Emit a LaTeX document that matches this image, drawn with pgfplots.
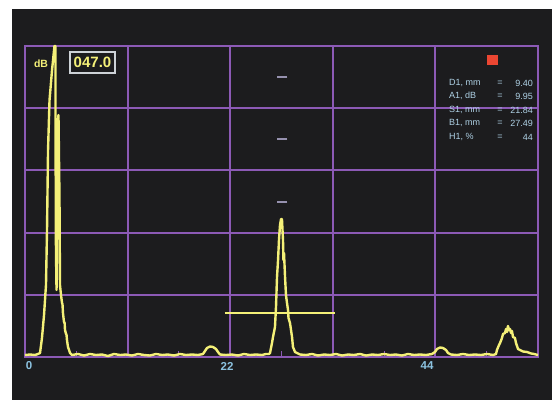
\documentclass[border=0pt]{standalone}
\usepackage{fontspec}
\setmainfont{Liberation Sans}
\usepackage{pgfplots}
\pgfplotsset{compat=1.18}

\definecolor{scr}{RGB}{28,28,30}
\definecolor{gridc}{RGB}{140,90,182}
\definecolor{trace}{RGB}{244,240,120}
\definecolor{tickc}{RGB}{140,195,225}
\definecolor{panelc}{RGB}{175,210,230}
\definecolor{boxc}{RGB}{205,210,215}
\definecolor{redc}{RGB}{235,70,50}
\definecolor{dashc}{RGB}{150,145,175}

\begin{document}
\begin{tikzpicture}
\path[use as bounding box] (-25pt,-43pt) rectangle (527pt,357pt);
\fill[white] (-25pt,-43pt) rectangle (527pt,357pt);
\fill[scr] (-13pt,-43pt) rectangle (527pt,348pt);
\begin{axis}[
  at={(0,0)}, anchor=south west,
  scale only axis, width=513pt, height=311pt,
  xmin=0, xmax=55, ymin=0, ymax=100,
  clip=false,
  axis line style={gridc, line width=2pt},
  xtick={0,11,22,33,44,55}, xticklabels={},
  ytick={0,20,40,60,80,100}, yticklabels={},
  xmajorgrids=true, ymajorgrids=true,
  major grid style={gridc, line width=2pt, opacity=1},
  major tick length=0pt,
  minor xtick={5.5,16.5,27.5,38.5,49.5},
  minor tick length=6pt, tick align=inside,
  minor tick style={gridc, line width=1pt},
  xtick pos=left, ytick pos=left,
  extra x ticks={0.43,21.66,43.10}, extra x tick labels={0,22,44},
  extra x tick style={grid=none, major tick length=0pt},
  xticklabel style={font=\bfseries\fontsize{11.5}{11.5}\selectfont, text=tickc,
    anchor=center, yshift=-9pt},
]
% centre graticule dashes
\addplot[only marks, mark=-, mark size=5pt, dashc, line width=2pt]
  coordinates {(27.6,90)(27.6,70)(27.6,50)};
% gate
\addplot[trace, line width=2.2pt] coordinates {(21.44,14.15)(33.24,14.15)};
% A-scan trace
\addplot[trace, line width=2.4pt, line join=round] coordinates {
(0,0.64)(0.54,0.80)(1.07,0.64)(1.39,0.97)(1.61,1.29)
(1.82,6.11)(2.04,13.51)(2.25,23.15)(2.36,40.84)(2.47,66.56)(2.63,82.64)(2.90,92.28)
(3.16,100)(3.27,100)(3.27,76.21)(3.32,34.41)(3.38,21.54)(3.48,50.48)(3.54,76.21)
(3.59,77.81)(3.70,50.48)(3.75,23.15)(3.86,19.94)(3.97,17.36)(4.02,17.0)(4.07,14.15)
(4.18,11.25)(4.25,11.0)(4.29,8.68)(4.40,7.40)(4.45,7.2)(4.50,5.47)(4.61,3.22)
(4.83,1.29)(5.04,0.64)
(5.68,0.97)(6.33,0.48)(6.97,0.97)(7.61,0.64)(8.26,0.80)(8.90,0.32)(9.54,0.97)
(10.19,0.64)(10.83,0.80)(11.47,0.48)(12.12,0.97)(12.76,0.64)(13.40,0.48)(14.05,0.97)
(14.69,0.64)(15.33,0.80)(15.98,0.48)(16.62,0.97)(17.26,0.64)(17.90,0.80)(18.55,0.64)
(19.08,0.97)
(19.30,1.93)(19.51,2.89)(19.83,3.38)(20.16,3.22)(20.48,2.57)(20.69,1.61)(20.91,0.80)
(21.55,0.64)(22.19,0.80)(22.84,0.48)(23.48,0.97)(24.12,0.64)(24.77,0.80)(25.41,0.64)
(25.84,0.97)(26.16,0.97)
(26.27,1.29)(26.48,4.50)(26.59,6.43)(26.80,9.65)(26.91,16.08)(27.02,25.72)(27.13,31.19)
(27.23,37.62)(27.34,42.44)(27.45,44.37)(27.55,44.37)(27.66,37.62)(27.71,31.19)
(27.77,33.44)(27.88,25.72)(27.98,19.94)(28.09,17.36)(28.20,15.11)(28.25,12.54)
(28.41,10.93)(28.52,8.68)(28.63,6.43)(28.73,3.22)(28.95,1.61)(29.16,1.29)(29.48,0.80)
(30.13,0.64)(30.77,0.97)(31.41,0.48)(32.06,0.80)(32.70,0.64)(33.34,0.97)(33.99,0.48)
(34.63,0.80)(35.27,0.64)(35.92,0.97)(36.56,0.48)(37.20,0.80)(37.85,0.64)(38.49,0.97)
(39.13,0.64)(39.78,0.80)(40.42,0.48)(41.06,0.97)(41.71,0.64)(42.35,0.80)(42.99,0.64)
(43.64,0.97)
(43.96,1.61)(44.17,2.57)(44.49,3.06)(44.82,2.89)(45.14,2.25)(45.35,1.29)(45.67,0.80)
(46.32,0.64)(46.96,0.97)(47.60,0.64)(48.25,0.80)(48.89,0.64)(49.53,0.97)(50.18,0.64)
(50.50,0.97)
(50.60,2.25)(50.82,3.86)(50.93,4.50)(51.14,6.11)(51.25,7.40)(51.46,7.72)(51.57,9.00)
(51.68,8.04)(51.78,9.97)(51.89,8.68)(52.00,9.00)(52.11,7.72)(52.21,8.36)(52.32,6.43)
(52.53,6.11)(52.64,4.50)(52.75,3.54)(52.86,2.57)(53.07,2.25)(53.39,1.77)(53.82,1.61)
(54.25,1.13)(54.57,0.97)(55,0.64)
};
\end{axis}
% screen annotations
\node[text=trace, font=\bfseries\fontsize{10.5}{10.5}\selectfont] at (16pt,293pt) {dB};
\node[draw=boxc, line width=1.5pt, text=trace, font=\bfseries\fontsize{15}{15}\selectfont,
  minimum width=45pt, minimum height=21pt, inner sep=1pt] at (67.5pt,294.5pt) {047.0};
\fill[redc] (462pt,292pt) rectangle (473pt,302pt);
\begin{scope}[every node/.style={text=panelc, font=\fontsize{9}{9}\selectfont, inner sep=0pt}]
\node[anchor=west] at (424pt,274pt) {D1, mm};
\node[anchor=west] at (424pt,261pt) {A1, dB};
\node[anchor=west] at (424pt,247pt) {S1, mm};
\node[anchor=west] at (424pt,234pt) {B1, mm};
\node[anchor=west] at (424pt,220pt) {H1, \%};
\foreach \yy in {274,261,247,234,220} \node at (475pt,\yy pt) {=};
\node[anchor=east] at (508pt,274pt) {9.40};
\node[anchor=east] at (508pt,261pt) {9.95};
\node[anchor=east] at (508pt,247pt) {21.84};
\node[anchor=east] at (508pt,234pt) {27.49};
\node[anchor=east] at (508pt,220pt) {44};
\end{scope}
\end{tikzpicture}
\end{document}
